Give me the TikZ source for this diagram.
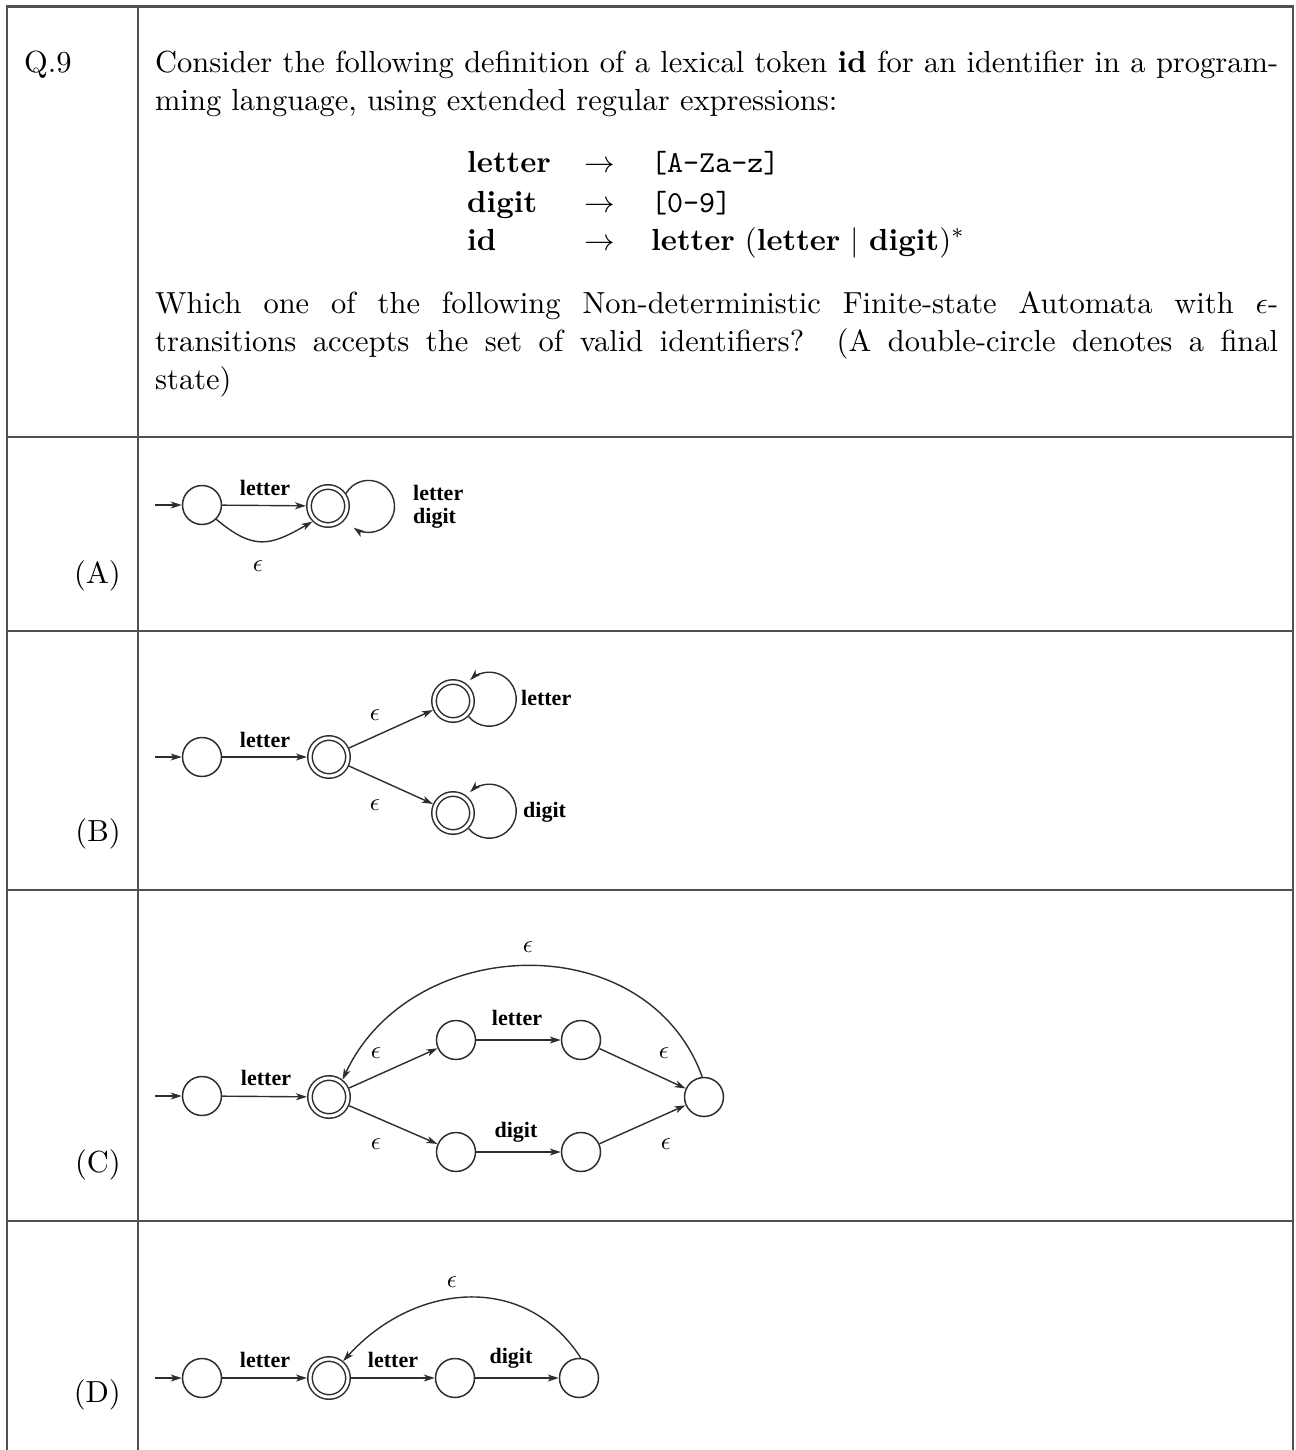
\documentclass[tikz,border=0pt]{standalone}
\usepackage{fontspec}
\usepackage{graphicx}
\setmainfont{lmroman10-regular}[Extension=.otf, BoldFont=lmroman10-bold, ItalicFont=lmroman10-italic, BoldItalicFont=lmroman10-bolditalic]
\setmonofont{lmmono10-regular}[Extension=.otf]
\newfontfamily\lblfont{Liberation Serif}
\usetikzlibrary{arrows.meta}
\definecolor{autcol}{RGB}{45,45,45}
\definecolor{tabcol}{RGB}{80,80,80}
\newcommand\mscl[2]{\scalebox{#1}{\fontsize{10}{12}\selectfont$#2$}}
\newcommand\bigmath[1]{\mscl{3.05}{#1}}
\newcommand\epsl{\mscl{2.5}{\epsilon}}
\begin{document}
\begin{tikzpicture}[x=1pt,y=1pt,
  txt/.style={inner sep=0pt, font=\fontsize{30.5}{37}\selectfont, anchor=base west},
  rowlbl/.style={inner sep=0pt, font=\fontsize{30.5}{37}\selectfont, anchor=base east},
  lbl/.style={inner sep=0pt, font=\lblfont\bfseries\fontsize{22}{24}\selectfont, anchor=base},
  eps/.style={inner sep=0pt},
  st/.style={circle, draw=autcol, line width=1.5pt, minimum size=39pt, inner sep=0pt},
  acc/.style={st, double=white, double distance=3pt, minimum size=38pt, outer sep=3pt},
  ar/.style={draw=autcol, line width=1.4pt, -{Stealth[length=11pt,width=7pt,inset=3pt]}},
  tl/.style={draw=tabcol, line width=2.6pt}]
\useasboundingbox (0,0) rectangle (1295,-1450);
% table
\draw[tl] (5.7,-6.5) -- (1294.3,-6.5);
\draw[tl] (7,-6.5) -- (7,-1450);
\draw[tl] (138,-6.5) -- (138,-1450);
\draw[tl] (1293,-6.5) -- (1293,-1450);
\draw[tl] (7,-437) -- (1293,-437);
\draw[tl] (7,-631) -- (1293,-631);
\draw[tl] (7,-890) -- (1293,-890);
\draw[tl] (7,-1221) -- (1293,-1221);
% question text
\node[txt] (q) at (24,-73) {Q.9};
\node[txt] (p1) at (155,-73) {\makebox[1123pt][s]{Consider the following definition of a lexical token \textbf{id} for an identifier in a program-}};
\node[txt] (p2) at (155,-111) {ming language, using extended regular expressions:};
\node[txt] (g1a) at (467,-173) {\textbf{letter}};
\node[txt] (g1b) at (584,-173) {\bigmath{\rightarrow}};
\node[txt] (g1c) at (651,-173) {\texttt{[A-Za-z]}};
\node[txt] (g2a) at (467,-212) {\textbf{digit}};
\node[txt] (g2b) at (584,-212) {\bigmath{\rightarrow}};
\node[txt] (g2c) at (651,-212) {\texttt{[0-9]}};
\node[txt] (g3a) at (467,-250) {\textbf{id}};
\node[txt] (g3b) at (584,-250) {\bigmath{\rightarrow}};
\node[txt] (g3c) at (651,-250) {\textbf{letter} (\textbf{letter} \bigmath{|} \textbf{digit})\bigmath{^*}};
\node[txt] (p3) at (155,-313) {\makebox[1123pt][s]{Which one of the following Non-deterministic Finite-state Automata with \bigmath{\epsilon}-}};
\node[txt] (p4) at (155,-351) {\makebox[1123pt][s]{transitions accepts the set of valid identifiers? (A double-circle denotes a final}};
\node[txt] (p5) at (155,-389) {state)};
% row labels
\node[rowlbl] (la) at (121,-583) {(A)};
\node[rowlbl] (lb) at (121,-841) {(B)};
\node[rowlbl] (lc) at (121,-1172) {(C)};
\node[rowlbl] (ld) at (121,-1402) {(D)};
% ---------- A ----------
\coordinate (ain) at (155,-505);
\node[st] (a0) at (202,-505) {};
\node[acc] (a1) at (328,-506) {};
\draw[ar] (ain) -- (a0);
\draw[ar] (a0) -- (a1);
\draw[ar] (a0.-45) to[out=-40,in=-150,looseness=1.3] (a1.-135);
\draw[ar] (a1.35) arc[start angle=150,end angle=-125,radius=26];
\node[lbl] (ta1) at (265,-495) {letter};
\node[eps] (ta2) at (258,-566) {\epsl};
\node[lbl,anchor=base west] (ta3) at (413,-500) {letter};
\node[lbl,anchor=base west] (ta4) at (413,-523) {digit};
% ---------- B ----------
\coordinate (bin) at (155,-757);
\node[st] (b0) at (202,-757) {};
\node[acc] (b1) at (329,-757) {};
\node[acc] (b2) at (453,-701) {};
\node[acc] (b3) at (453,-813) {};
\draw[ar] (bin) -- (b0);
\draw[ar] (b0) -- (b1);
\draw[ar] (b1) -- (b2);
\draw[ar] (b1) -- (b3);
\draw[ar] (b2.-45) arc[start angle=-140,end angle=135,radius=27];
\draw[ar] (b3.-45) arc[start angle=-140,end angle=135,radius=27];
\node[lbl] (tb1) at (265,-747) {letter};
\node[eps] (tb2) at (375,-715) {\epsl};
\node[eps] (tb3) at (375,-805) {\epsl};
\node[lbl,anchor=base west] (tb4) at (521,-705) {letter};
\node[lbl,anchor=base west] (tb5) at (523,-817) {digit};
% ---------- C ----------
\coordinate (cin) at (155,-1096);
\node[st] (c0) at (202,-1096) {};
\node[acc] (c1) at (329,-1097) {};
\node[st] (c2) at (456,-1040) {};
\node[st] (c3) at (581,-1040) {};
\node[st] (c4) at (456,-1152) {};
\node[st] (c5) at (581,-1152) {};
\node[st] (c6) at (704,-1097) {};
\draw[ar] (cin) -- (c0);
\draw[ar] (c0) -- (c1);
\draw[ar] (c1) -- (c2);
\draw[ar] (c1) -- (c4);
\draw[ar] (c2) -- (c3);
\draw[ar] (c4) -- (c5);
\draw[ar] (c3) -- (c6);
\draw[ar] (c5) -- (c6);
\draw[ar] (c6.95) to[out=110,in=65,looseness=1.15] (c1.52);
\node[lbl] (tc1) at (266,-1085) {letter};
\node[lbl] (tc2) at (517,-1025) {letter};
\node[lbl] (tc3) at (516,-1137) {digit};
\node[eps] (tc4) at (528,-947) {\epsl};
\node[eps] (tc5) at (376,-1053) {\epsl};
\node[eps] (tc6) at (376,-1144) {\epsl};
\node[eps] (tc7) at (664,-1053) {\epsl};
\node[eps] (tc8) at (666,-1144) {\epsl};
% ---------- D ----------
\coordinate (din) at (155,-1378);
\node[st] (d0) at (202,-1378) {};
\node[acc] (d1) at (329,-1378) {};
\node[st] (d2) at (455,-1378) {};
\node[st] (d3) at (579,-1378) {};
\draw[ar] (din) -- (d0);
\draw[ar] (d0) -- (d1);
\draw[ar] (d1) -- (d2);
\draw[ar] (d2) -- (d3);
\draw[ar] (d3.85) to[out=123,in=48,looseness=1.12] (d1.50);
\node[lbl] (td1) at (265,-1367) {letter};
\node[lbl] (td2) at (393,-1367) {letter};
\node[lbl] (td3) at (511,-1363) {digit};
\node[eps] (td4) at (452,-1282) {\epsl};
\end{tikzpicture}
\end{document}
